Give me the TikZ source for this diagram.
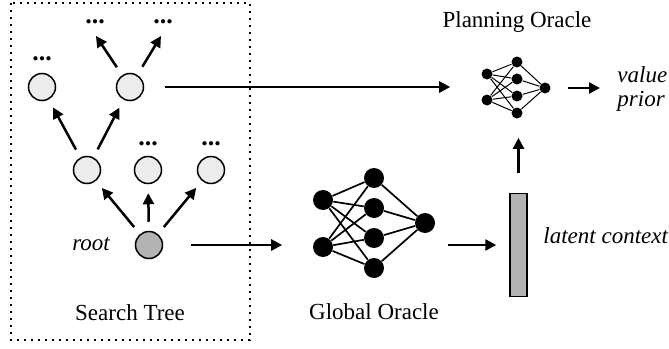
\documentclass[tikz,border=0pt]{standalone}
\usepackage{fontspec}
\setmainfont{Liberation Serif}
\usetikzlibrary{arrows.meta, calc, positioning, fit}
\definecolor{treegray}{RGB}{236,236,236}
\definecolor{rootgray}{RGB}{179,179,179}

\begin{document}
\begin{tikzpicture}[x=0.5pt, y=-0.5pt,
    every node/.style={font=\fontsize{11.5}{12}\selectfont},
    state/.style={circle, draw, line width=0.75pt, fill=treegray, minimum size=13.5pt, inner sep=0pt},
    neuron/.style={circle, fill=black, minimum size=10pt, inner sep=0pt},
    smallneuron/.style={circle, fill=black, minimum size=5.5pt, inner sep=0pt},
    arr/.style={-{Triangle[length=5.5pt, width=5.5pt]}, line width=1.25pt},
    treearr/.style={arr, shorten <=4.5pt, shorten >=4.5pt},
    more/.style={font=\fontsize{13}{13}\selectfont\bfseries, anchor=base, inner sep=0pt},
]
    \useasboundingbox (0,0) rectangle (669,348);

    % Search tree
    \draw[line width=1pt, dash pattern=on 1pt off 2.5pt] (11,3) rectangle (250,340);
    \node[state, fill=rootgray] (root) at (149,245) {};
    \node[state] (ml) at (87,170) {};
    \node[state] (mc) at (148,170) {};
    \node[state] (mr) at (211,170) {};
    \node[state] (tl) at (42,87) {};
    \node[state] (tr) at (130,87) {};
    \coordinate (eA) at (96,36);
    \coordinate (eB) at (161,36);

    \draw[treearr] (root) -- (ml);
    \draw[treearr] (root) -- (mc);
    \draw[treearr] (root) -- (mr);
    \draw[treearr] (ml) -- (tl);
    \draw[treearr] (ml) -- (tr);
    \draw[arr, shorten <=4.75pt] (tr) -- (eA);
    \draw[arr, shorten <=4.75pt] (tr) -- (eB);

    \node[more] (dotsA) at (95,24) {...};
    \node[more] (dotsB) at (163,24) {...};
    \node[more] (dotsTL) at (42,60) {...};
    \node[more] (dotsMC) at (148,145) {...};
    \node[more] (dotsMR) at (211,145) {...};

    \node[anchor=base, font=\fontsize{11.5}{12}\selectfont\itshape] (rootlbl) at (91,250) {root};
    \node[anchor=base] (treelbl) at (130,320) {Search Tree};

    % Global oracle
    \foreach \i/\y in {1/200, 2/247}
        \node[neuron] (gIn\i) at (323,\y) {};
    \foreach \j/\y in {1/178, 2/208, 3/238, 4/268}
        \node[neuron] (gHid\j) at (374,\y) {};
    \node[neuron] (gOut) at (425,223) {};
    \foreach \i in {1,2}
        \foreach \j in {1,...,4}
            \draw[line width=0.85pt] (gIn\i) -- (gHid\j);
    \foreach \j in {1,...,4}
        \draw[line width=0.85pt] (gHid\j) -- (gOut);
    \node[fit=(gIn1)(gHid1)(gHid4)(gOut), inner sep=0pt] (global) {};
    \node[anchor=base] (globallbl) at (374,319) {Global Oracle};

    % Latent context
    \node[draw, line width=0.75pt, fill=rootgray, minimum width=8.5pt, minimum height=51.5pt, inner sep=0pt] (ctx) at (518.5,245) {};
    \node[anchor=base west, inner sep=0pt, font=\fontsize{11.5}{12}\selectfont\itshape] (ctxlbl) at (543,243) {latent context};

    % Planning oracle
    \foreach \i/\y in {1/74, 2/100}
        \node[smallneuron] (pIn\i) at (487,\y) {};
    \foreach \j/\y in {1/62, 2/79, 3/96, 4/113}
        \node[smallneuron] (pHid\j) at (517,\y) {};
    \node[smallneuron] (pOut) at (545,88) {};
    \foreach \i in {1,2}
        \foreach \j in {1,...,4}
            \draw[line width=0.5pt] (pIn\i) -- (pHid\j);
    \foreach \j in {1,...,4}
        \draw[line width=0.5pt] (pHid\j) -- (pOut);
    \node[fit=(pIn1)(pHid1)(pHid4)(pOut), inner sep=0pt] (planning) {};
    \node[anchor=base] (planninglbl) at (517,27) {Planning Oracle};
    \node[anchor=west, align=left, inner sep=0pt, font=\fontsize{11.5}{12}\selectfont\itshape] (out) at (617,89) {value\\prior};

    % Connections between parts
    \draw[arr, shorten <=10.5pt, shorten >=15.25pt] (tr.east) -- (tr.east -| planning.west);
    \draw[arr, shorten <=13.75pt, shorten >=15pt] (root.east) -- (root.east -| global.west);
    \draw[arr, shorten <=6pt, shorten >=6.5pt] (ctx.west -| global.east) -- (ctx.west);
    \draw[arr, shorten <=10pt, shorten >=9.25pt] (ctx.north) -- (ctx.north |- planning.south);
    \draw[arr, shorten <=8.75pt, shorten >=8.5pt] (pOut.east) -- (pOut.east -| out.west);
\end{tikzpicture}
\end{document}
